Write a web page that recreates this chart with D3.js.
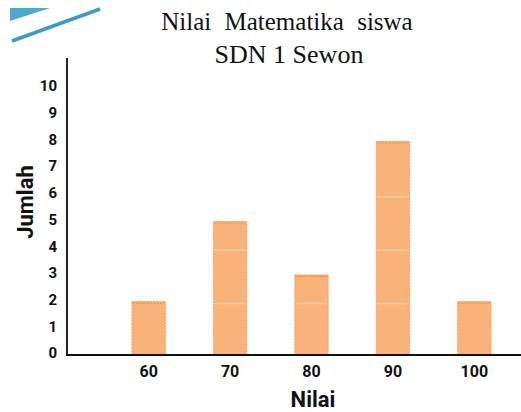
<!DOCTYPE html>
<html>
<head>
<meta charset="utf-8">
<script src="https://cdn.jsdelivr.net/npm/d3@7"></script>
<style>
  html, body { margin: 0; padding: 0; background: #fff; }
  svg { display: block; }
</style>
</head>
<body>
<svg id="chart" width="521" height="412"></svg>
<script>
const titleLines = ["Nilai Matematika siswa", "SDN 1 Sewon"];
const categories = ["60", "70", "80", "90", "100"];
const values = [2, 5, 3, 8, 2];
const yTicks = [0, 1, 2, 3, 4, 5, 6, 7, 8, 9, 10];
const xLabel = "Nilai";
const yLabel = "Jumlah";

const svg = d3.select("#chart");

// decorative blue strokes (top-left)
svg.append("path")
  .attr("d", "M10,8 L50,8 L10,21 Z")
  .attr("fill", "#3aa0c8").attr("opacity", 0.9);
svg.append("path")
  .attr("d", "M12,41 L100,9")
  .attr("stroke", "#3a9cc4").attr("stroke-width", 3.5).attr("fill", "none");

const x = d3.scaleBand().domain(categories).range([108, 515])
  .paddingInner(0.59).paddingOuter(0.295);
const y = d3.scaleLinear().domain([0, 10]).range([355, 88]);

// title
svg.append("text")
  .attr("x", 287).attr("y", 30)
  .attr("text-anchor", "middle")
  .attr("font-family", "Liberation Serif, serif")
  .attr("font-size", 25).attr("word-spacing", 7)
  .attr("fill", "#111")
  .text(titleLines[0]);
svg.append("text")
  .attr("x", 289).attr("y", 63)
  .attr("text-anchor", "middle")
  .attr("font-family", "Liberation Serif, serif")
  .attr("font-size", 26)
  .attr("fill", "#111")
  .text(titleLines[1]);

// bars
const bars = svg.append("g");
bars.selectAll("rect").data(values).join("rect")
  .attr("x", (d, i) => x(categories[i]))
  .attr("y", d => y(d))
  .attr("width", x.bandwidth())
  .attr("height", d => y(0) - y(d))
  .attr("fill", "#f8b27a")
  .attr("stroke", "#f0a060")
  .attr("stroke-width", 1)
  .attr("stroke-dasharray", "2,1");

// segment highlight lines every 2 units inside bars
values.forEach((v, i) => {
  for (let k = 2; k < v; k += 2) {
    bars.append("line")
      .attr("x1", x(categories[i]) + 1).attr("x2", x(categories[i]) + x.bandwidth() - 1)
      .attr("y1", y(k) + 2).attr("y2", y(k) + 2)
      .attr("stroke", "#fcd2aa").attr("stroke-width", 1.5);
  }
});
// top highlight
bars.selectAll("line.top").data(values).join("line")
  .attr("x1", (d, i) => x(categories[i]) + 1)
  .attr("x2", (d, i) => x(categories[i]) + x.bandwidth() - 1)
  .attr("y1", d => y(d) + 1.5).attr("y2", d => y(d) + 1.5)
  .attr("stroke", "#ef9548").attr("stroke-width", 1.2).attr("stroke-dasharray", "2,1");

// axes lines
svg.append("line")
  .attr("x1", 67).attr("x2", 67).attr("y1", 58).attr("y2", y(0))
  .attr("stroke", "#111").attr("stroke-width", 1.8);
svg.append("line")
  .attr("x1", 66).attr("x2", 521).attr("y1", y(0)).attr("y2", y(0))
  .attr("stroke", "#111").attr("stroke-width", 2);

// y axis labels
const yAxis = d3.axisLeft(y).tickValues(yTicks).tickSize(0).tickPadding(0).tickFormat(d3.format("d"));
const gy = svg.append("g").attr("transform", "translate(57,-2)").call(yAxis);
gy.select(".domain").remove();
gy.selectAll("text")
  .attr("font-family", "Roboto, sans-serif").attr("font-weight", "bold")
  .attr("font-size", 15).attr("fill", "#111");

// x axis labels
const xAxis = d3.axisBottom(x).tickSize(0).tickPadding(0);
const gx = svg.append("g").attr("transform", "translate(0,366)").call(xAxis);
gx.select(".domain").remove();
gx.selectAll("text")
  .attr("font-family", "Roboto, sans-serif").attr("font-weight", "bold")
  .attr("font-size", 16).attr("fill", "#111");

// axis titles
svg.append("text")
  .attr("x", 313).attr("y", 407)
  .attr("text-anchor", "middle")
  .attr("font-family", "Roboto, sans-serif").attr("font-weight", "bold")
  .attr("font-size", 22).attr("fill", "#111")
  .text(xLabel);
svg.append("text")
  .attr("transform", "translate(33,202) rotate(-90)")
  .attr("text-anchor", "middle")
  .attr("font-family", "Roboto, sans-serif").attr("font-weight", "bold")
  .attr("font-size", 22).attr("fill", "#111")
  .text(yLabel);
</script>
</body>
</html>
